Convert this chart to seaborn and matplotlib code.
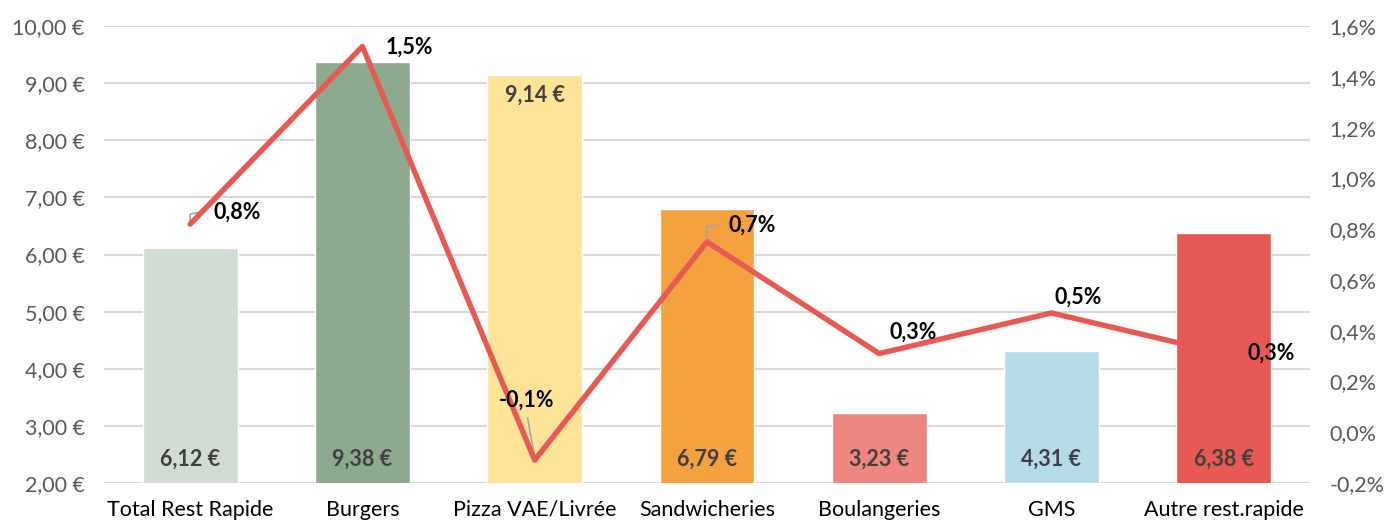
import numpy as np
import pandas as pd
import matplotlib
matplotlib.use("Agg")
import matplotlib.pyplot as plt
import seaborn as sns
from matplotlib.ticker import FuncFormatter, MultipleLocator

categories = ["Total Rest Rapide", "Burgers", "Pizza VAE/Livrée", "Sandwicheries",
              "Boulangeries", "GMS", "Autre rest.rapide"]
prix = [6.12, 9.38, 9.14, 6.79, 3.23, 4.31, 6.38]
evolution = [0.82, 1.52, -0.11, 0.75, 0.31, 0.47, 0.31]
evol_labels = ["0,8%", "1,5%", "-0,1%", "0,7%", "0,3%", "0,5%", "0,3%"]
bar_colors = ["#D1DDD3", "#8DAA8F", "#FDE398", "#F4A240", "#EE8681", "#B5DCE6", "#E85953"]
line_color = "#E85953"

sns.set_style("white")
plt.rcParams["font.family"] = ["Lato", "DejaVu Sans"]
FS = 15.5

df = pd.DataFrame({"cat": categories, "prix": prix, "evol": evolution})

fig = plt.figure(figsize=(13.89, 5.23), dpi=100)
ax = fig.add_axes([0.0749, 0.0765, 0.8681, 0.8735])

sns.barplot(data=df, x="cat", y="prix", hue="cat", palette=bar_colors,
            width=0.55, legend=False, ax=ax, zorder=2, saturation=1)
ax.set_ylim(2, 10)
ax.yaxis.set_major_locator(MultipleLocator(1))
ax.yaxis.set_major_formatter(FuncFormatter(lambda v, p: f"{v:.2f} €".replace(".", ",")))
ax.grid(axis="y", color="#D9D9D9", linewidth=1.5, zorder=0)
ax.set_axisbelow(True)
ax.set_xlabel("")
ax.set_ylabel("")
ax.tick_params(axis="y", labelsize=FS, labelcolor="#595959", length=0, pad=14)
ax.tick_params(axis="x", labelsize=FS, labelcolor="#000000", length=0, pad=12)
for s in ax.spines.values():
    s.set_visible(False)

# bar value labels
for i, v in enumerate(prix):
    txt = f"{v:.2f} €".replace(".", ",")
    if categories[i] == "Pizza VAE/Livrée":
        ax.text(i, v - 0.35, txt, ha="center", va="center", fontsize=FS,
                fontweight="bold", color="#404040", zorder=3)
    else:
        ax.text(i, 2.42, txt, ha="center", va="center", fontsize=FS,
                fontweight="bold", color="#404040", zorder=3)

ax2 = ax.twinx()
sns.lineplot(x=np.arange(len(categories)), y=evolution, color=line_color,
             linewidth=3.9, ax=ax2, sort=False)
ax2.set_ylim(-0.2, 1.6)
ax2.yaxis.set_major_locator(MultipleLocator(0.2))
ax2.yaxis.set_major_formatter(FuncFormatter(lambda v, p: f"{v:.1f}%".replace(".", ",")))
ax2.tick_params(axis="y", labelsize=FS, labelcolor="#595959", length=0, pad=14)
ax2.grid(False)
for s in ax2.spines.values():
    s.set_visible(False)
ax2.set_xlim(-0.5, len(categories) - 0.5)

# line labels (offsets in pixels) and leader lines
offsets = [(47, 12), (47, -1), (-8, 60), (45, 17), (34, 21), (27, 16), (47, 0)]
leaders = [True, False, True, True, False, False, False]
for i, (v, lab) in enumerate(zip(evolution, evol_labels)):
    dx, dy = offsets[i]
    ax2.annotate(lab, xy=(i, v), xytext=(dx, dy), textcoords="offset pixels",
                 ha="center", va="center", fontsize=FS, fontweight="bold", color="#000000")
    if leaders[i]:
        if dx < 0:
            pts = [(0, 2), (-7, dy - 18)]
        else:
            pts = [(0, 2), (0, dy - 2), (10, dy)]
        xs = []
        ys = []
        disp = ax2.transData.transform((i, v))
        inv = ax2.transData.inverted()
        for px, py in pts:
            xd, yd = inv.transform((disp[0] + px, disp[1] + py))
            xs.append(xd)
            ys.append(yd)
        ax2.plot(xs, ys, color="#A6A6A6", linewidth=1.2, zorder=1)

fig.savefig("out.png", dpi=100)
